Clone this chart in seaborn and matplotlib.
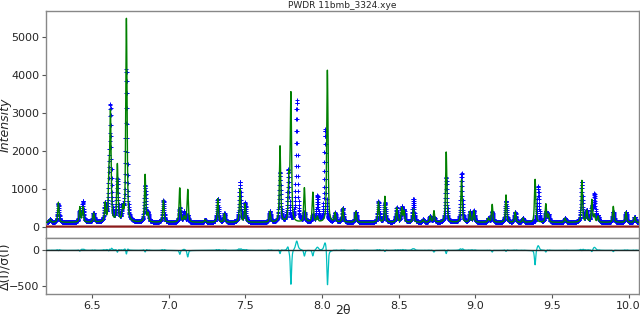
import matplotlib

matplotlib.use("Agg")

import matplotlib.pyplot as plt
import numpy as np
import pandas as pd
import seaborn as sns

PEAK_POS = [
    6.226, 6.280, 6.420, 6.440, 6.510, 6.585, 6.610, 6.620, 6.665, 6.700,
    6.724, 6.846, 6.865, 6.965, 7.072, 7.100, 7.124, 7.237, 7.320, 7.363,
    7.465, 7.498, 7.660, 7.726, 7.780, 7.784, 7.797, 7.835, 7.885, 7.940,
    7.970, 8.020, 8.035, 8.085, 8.135, 8.220, 8.368, 8.410, 8.487, 8.520,
    8.535, 8.596, 8.660, 8.705, 8.730, 8.810, 8.910, 8.965, 8.990, 9.085,
    9.110, 9.200, 9.260, 9.310, 9.390, 9.410, 9.460, 9.477, 9.585, 9.695,
    9.727, 9.760, 9.777, 9.800, 9.900, 9.983, 10.040,
]
OBS_HEIGHT = [
    80, 500, 300, 540, 240, 460, 700, 2900, 1100, 320,
    4000, 950, 220, 580, 380, 280, 180, 70, 620, 230,
    1060, 500, 280, 1300, 1380, 0, 0, 3200, 230, 180,
    680, 2450, 0, 240, 370, 280, 540, 520, 380, 380,
    300, 610, 70, 160, 140, 1180, 1280, 280, 300, 110,
    280, 570, 270, 110, 0, 940, 280, 200, 110, 1060,
    300, 380, 720, 160, 280, 280, 150,
]
CALC_HEIGHT = [
    80, 520, 400, 400, 240, 480, 1100, 2800, 1500, 340,
    5350, 1250, 220, 580, 900, 140, 860, 70, 620, 230,
    880, 480, 280, 2000, 0, 1100, 3350, 0, 900, 780,
    140, 0, 4000, 240, 370, 280, 540, 680, 380, 380,
    300, 350, 70, 160, 300, 1850, 1120, 280, 300, 110,
    470, 720, 270, 110, 1130, 0, 480, 200, 110, 1100,
    300, 590, 190, 160, 420, 280, 150,
]
BACKGROUND = 110
X_TICKS = [6.5, 7.0, 7.5, 8.0, 8.5, 9.0, 9.5, 10.0]
TITLE = "PWDR 11bmb_3324.xye"


def profile(x, pos, heights, fwhm=0.011, eta=0.55):
    y = np.full_like(x, BACKGROUND, dtype=float)
    hw = fwhm / 2
    for p, h in zip(pos, heights):
        d = x - p
        lor = 1 / (1 + (d / hw) ** 2)
        gau = np.exp(-np.log(2) * (d / hw) ** 2)
        y += h * (eta * lor + (1 - eta) * gau)
    return y


def main() -> None:
    sns.set_theme(style="ticks")
    plt.rcParams["font.family"] = ["DejaVu Sans"]

    tth = np.arange(6.20, 10.07, 0.001)
    obs = profile(tth, PEAK_POS, OBS_HEIGHT, fwhm=0.013)
    calc = profile(tth, PEAK_POS, CALC_HEIGHT, fwhm=0.010)
    diff = (obs - calc) / (0.42 * np.sqrt(obs))
    df = pd.DataFrame({"tth": tth, "obs": obs, "calc": calc, "diff": diff, "bkg": 0.0})

    fig = plt.figure(figsize=(6.4, 3.21), dpi=100)
    ax1 = fig.add_axes([0.072, 0.259, 0.927, 0.707])
    ax2 = fig.add_axes([0.072, 0.083, 0.927, 0.176], sharex=ax1)

    sns.scatterplot(data=df, x="tth", y="obs", ax=ax1, marker="+", s=9,
                    color="#0000ff", linewidth=0.7, legend=False, zorder=2)
    sns.lineplot(data=df, x="tth", y="calc", ax=ax1, color="#008000",
                 linewidth=1.0, zorder=3)
    sns.lineplot(data=df, x="tth", y="bkg", ax=ax1, color="#8b1a1a",
                 linewidth=1.6, zorder=4)

    sns.lineplot(data=df, x="tth", y="diff", ax=ax2, color="#00bfbf", linewidth=0.9)
    ax2.axhline(0, color="#1a2a2a", linewidth=1.0, zorder=3)

    ax1.set_xlim(6.2, 10.07)
    ax1.set_ylim(-297, 5676)
    ax2.set_ylim(-615, 176)
    ax2.set_xticks(X_TICKS)
    ax1.set_yticks(range(0, 6000, 1000))
    ax2.set_yticks([0, -500])

    ax1.tick_params(axis="x", which="both", bottom=False, labelbottom=False)
    for ax in (ax1, ax2):
        ax.tick_params(labelsize=8, length=3, width=0.8, color="#555555", pad=2)
        for sp in ax.spines.values():
            sp.set_visible(True)
            sp.set_color("#888888")
            sp.set_linewidth(1.0)

    ax1.set_xlabel("")
    ax1.set_ylabel("Intensity", fontsize=9, style="italic")
    ax2.set_ylabel("Δ(I)/σ(I)", fontsize=9)
    ax2.set_xlabel("2θ", fontsize=9)
    ax1.yaxis.set_label_coords(-0.058, 0.5)
    ax2.yaxis.set_label_coords(-0.058, 0.5)
    ax2.xaxis.set_label_coords(0.5, -0.17)
    ax1.set_title(TITLE, fontsize=6.5, pad=2)

    fig.savefig("out.png", dpi=100)
    plt.close(fig)


if __name__ == "__main__":
    main()
